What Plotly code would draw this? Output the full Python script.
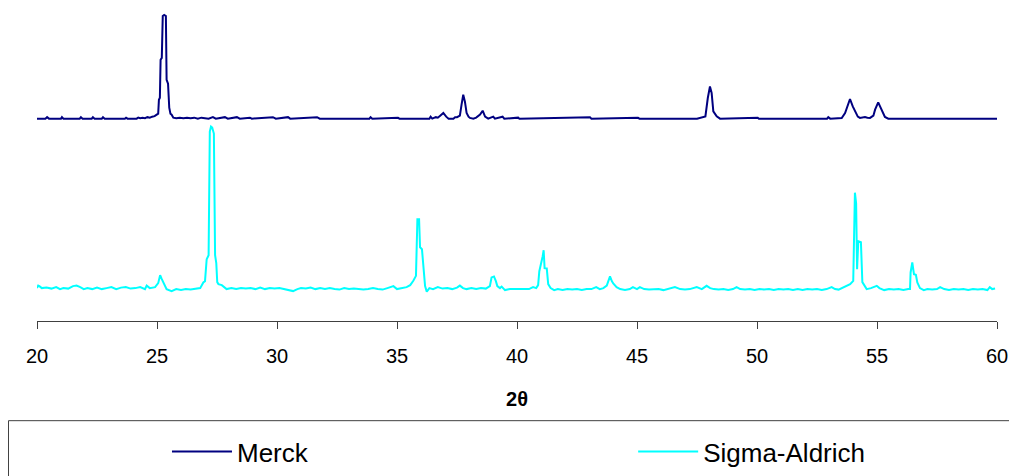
import plotly.graph_objects as go

# Merck pattern (2theta, plotted intensity incl. vertical offset)
merck_x = [20.00, 20.35, 20.42, 20.50, 21.00, 21.04, 21.10, 21.78, 21.83, 21.90, 22.28, 22.33, 22.40,
           22.70, 22.75, 22.82, 23.66, 23.71, 23.77, 24.15, 24.22, 24.30, 24.40, 24.50, 24.60, 24.70,
           24.80, 24.90, 24.99, 25.05, 25.08, 25.12, 25.15, 25.20, 25.24, 25.30, 25.37, 25.40, 25.46,
           25.51, 25.56, 25.61, 25.68, 25.80, 25.95, 26.10, 26.25, 26.40, 26.55, 26.70, 26.85, 27.00,
           27.15, 27.33, 27.45, 27.83, 27.95, 28.33, 28.45, 28.87, 28.95, 29.83, 29.95, 30.46, 30.55,
           31.67, 31.78, 33.85, 33.90, 33.97, 35.04, 35.10, 36.35, 36.40, 36.47, 36.62, 36.70, 36.80,
           36.93, 37.05, 37.15, 37.35, 37.42, 37.50, 37.62, 37.69, 37.76, 37.83, 37.90, 37.98, 38.04,
           38.18, 38.30, 38.46, 38.57, 38.67, 38.80, 39.01, 39.08, 39.40, 39.47, 40.05, 40.10, 43.04,
           43.10, 45.04, 45.10, 47.50, 47.63, 47.75, 47.85, 47.95, 48.04, 48.11, 48.18, 48.32, 48.46,
           50.03, 50.08, 52.92, 52.97, 53.05, 53.53, 53.67, 53.80, 53.875, 53.99, 54.10, 54.20, 54.29,
           54.40, 54.50, 54.60, 54.71, 54.85, 54.92, 55.05, 55.19, 55.33, 55.47, 60.00]
merck_y = [203, 203, 204.5, 203, 203, 204.5, 203, 203, 204.5, 203, 203, 204.5, 203,
           203, 204.5, 203, 203, 204, 203, 203, 204, 203.5, 204, 203.5, 204.5, 204,
           205, 205.5, 207, 208, 222, 224, 262, 264, 306, 307, 306, 242, 238,
           214, 208, 207, 204, 203.5, 204, 203.5, 204, 203.5, 204, 203, 204, 203.5,
           203, 204.5, 203, 204.5, 203, 204.5, 203, 204, 203, 204.5, 203, 204.5, 203,
           204.5, 203, 203, 204.5, 203, 204, 203, 203, 205, 203, 204.5, 204, 206,
           208.7, 205, 203, 203, 204.5, 204.5, 206, 217, 227, 220, 208.7, 205, 203.7,
           203, 204, 207, 211, 205, 203, 205, 203, 205, 203, 204, 203, 204.5,
           203, 204, 203, 203, 204, 204.5, 205.3, 223.7, 235.3, 228.7, 210.3, 205.3, 203,
           204, 203, 203, 204.5, 203, 203.7, 208.7, 218.7, 222.7, 215.3, 209, 205, 203.7,
           204, 204.7, 204, 203.7, 206, 212, 219.3, 212, 204.7, 203, 203]

# Sigma-Aldrich pattern
sigma_x = [20.00, 20.05, 20.10, 20.20, 20.40, 20.60, 20.80, 20.96, 21.10, 21.30, 21.50, 21.65, 21.80,
           21.95, 22.10, 22.30, 22.50, 22.70, 22.90, 23.10, 23.30, 23.50, 23.70, 23.90, 24.10, 24.30,
           24.50, 24.57, 24.70, 24.92, 25.05, 25.13, 25.20, 25.30, 25.40, 25.61, 25.80, 26.00, 26.20,
           26.40, 26.60, 26.80, 26.93, 27.00, 27.07, 27.15, 27.20, 27.25, 27.30, 27.37, 27.42, 27.47,
           27.51, 27.56, 27.70, 27.90, 28.10, 28.30, 28.50, 28.70, 28.90, 29.10, 29.30, 29.50, 29.70,
           29.90, 30.10, 30.30, 30.50, 30.67, 30.85, 31.00, 31.20, 31.40, 31.60, 31.80, 32.00, 32.20,
           32.40, 32.60, 32.80, 33.00, 33.20, 33.40, 33.60, 33.80, 34.00, 34.20, 34.40, 34.60, 34.85,
           35.00, 35.20, 35.40, 35.55, 35.68, 35.79, 35.85, 35.92, 35.96, 36.04, 36.10, 36.17, 36.24,
           36.35, 36.50, 36.70, 36.90, 37.10, 37.30, 37.50, 37.62, 37.75, 37.90, 38.10, 38.30, 38.50,
           38.70, 38.87, 38.94, 39.04, 39.12, 39.18, 39.29, 39.36, 39.50, 39.70, 39.90, 40.10, 40.30,
           40.50, 40.67, 40.80, 40.88, 40.93, 41.07, 41.11, 41.15, 41.24, 41.30, 41.40, 41.55, 41.70,
           41.90, 42.10, 42.30, 42.50, 42.70, 42.90, 43.10, 43.30, 43.45, 43.60, 43.74, 43.875, 43.95,
           44.01, 44.15, 44.30, 44.50, 44.70, 44.83, 45.00, 45.12, 45.30, 45.50, 45.70, 45.90, 46.10,
           46.30, 46.58, 46.80, 47.00, 47.20, 47.49, 47.70, 47.90, 48.05, 48.20, 48.40, 48.60, 48.80,
           49.00, 49.15, 49.30, 49.50, 49.70, 49.90, 50.10, 50.30, 50.50, 50.70, 50.90, 51.10, 51.30,
           51.50, 51.70, 51.90, 52.10, 52.30, 52.50, 52.70, 52.90, 53.11, 53.25, 53.40, 53.55, 53.74,
           53.88, 54.01, 54.08, 54.13, 54.17, 54.22, 54.33, 54.39, 54.50, 54.57, 54.75, 54.90, 54.99,
           55.10, 55.30, 55.50, 55.70, 55.90, 56.10, 56.30, 56.375, 56.40, 56.47, 56.54, 56.62, 56.68,
           56.79, 56.95, 57.10, 57.30, 57.50, 57.63, 57.80, 58.00, 58.20, 58.40, 58.60, 58.80, 59.00,
           59.20, 59.40, 59.60, 59.70, 59.80, 59.92]
sigma_y = [33, 35.5, 35, 33, 33.5, 32.5, 34, 32, 33, 32.5, 35, 35.5, 34,
           32, 33, 32, 33.5, 32, 33, 34, 32, 33.5, 34, 32.5, 33, 34,
           32, 35.5, 33, 34, 38, 46, 42, 36, 32, 30, 32, 31, 32,
           31.5, 32, 33, 38.7, 40, 62, 66, 190, 195, 194, 188, 66, 58,
           39, 37, 36, 32, 33, 32, 33, 32.5, 33, 32, 33.5, 32, 33,
           32.5, 33, 32, 31, 30, 32, 33, 32.5, 33.5, 32, 33, 32, 33,
           32, 31.5, 33, 32, 32.5, 32, 31.5, 32, 33, 32, 31.5, 33, 35,
           32, 33, 34, 36, 40.3, 45.3, 102, 102, 74, 72, 55, 35, 29.5,
           33, 32, 34, 32.5, 33, 32, 33.5, 35.5, 33, 32, 33, 32, 33,
           32.5, 35, 43.7, 44.7, 40, 35, 33, 34.5, 31, 32, 32, 32, 31.5,
           32, 34, 33, 36, 50, 65, 71, 53, 52.7, 37, 33, 31, 32,
           31, 32, 31.5, 32, 31, 32, 32, 34, 32, 33, 35.5, 44.7, 40,
           37.7, 34, 32, 31, 32, 34, 32, 34, 32, 31.5, 32, 32, 31,
           32, 34, 32, 31.5, 32, 34, 32, 35.3, 33, 32, 31.5, 32, 31,
           32, 34, 32, 31.5, 32, 31, 32, 31.5, 32, 31, 32, 31.5, 32,
           31, 32, 31, 32, 31.5, 32, 31, 32, 34, 32, 31.5, 33, 35.5,
           37, 40.3, 128.7, 118, 52, 80, 79, 39, 34, 32, 33, 34, 35.3,
           33, 31, 32, 31.5, 32, 31, 32, 32, 48.7, 58.7, 47, 46.3, 38.7,
           33, 31, 32, 31.5, 32, 34, 32, 31, 32, 31.5, 32, 31, 32,
           31.5, 32, 31, 34, 32, 32.5]

x_ticks = [20, 25, 30, 35, 40, 45, 50, 55, 60]
x_title = "<b>2θ</b>"
series_names = ["Merck", "Sigma-Aldrich"]
FONT = "Liberation Sans, Arial, sans-serif"

fig = go.Figure()
fig.add_trace(go.Scatter(x=merck_x, y=merck_y, mode="lines", name=series_names[0],
                         line=dict(color="#000080", width=2), legend="legend"))
fig.add_trace(go.Scatter(x=sigma_x, y=sigma_y, mode="lines", name=series_names[1],
                         line=dict(color="#00FFFF", width=2), legend="legend2"))

# legend frame
fig.add_shape(type="rect", xref="paper", yref="paper",
              x0=-0.0297, x1=1.05, y0=-0.3205, y1=-0.55,
              line=dict(color="#404040", width=1), fillcolor="rgba(0,0,0,0)")

leg_common = dict(orientation="h", xanchor="left", yanchor="middle", y=-0.415,
                  font=dict(size=26), bgcolor="rgba(0,0,0,0)", itemwidth=60)

fig.update_layout(
    width=1009, height=468,
    margin=dict(l=29, r=20, t=2, b=154),
    paper_bgcolor="white", plot_bgcolor="white",
    font=dict(family=FONT, color="black"),
    xaxis=dict(range=[20, 60], tickvals=x_ticks, ticks="outside", ticklen=7,
               tickcolor="#404040", showline=True, linecolor="#404040", linewidth=1,
               showgrid=False, zeroline=False, tickfont=dict(size=20),
               ticklabelstandoff=10,
               title=dict(text=x_title, font=dict(size=20), standoff=25)),
    yaxis=dict(range=[0, 312], visible=False, showgrid=False, zeroline=False),
    showlegend=True,
    legend=dict(x=0.1354, **leg_common),
    legend2=dict(x=0.621, **leg_common),
)

fig.write_html("out.html")
